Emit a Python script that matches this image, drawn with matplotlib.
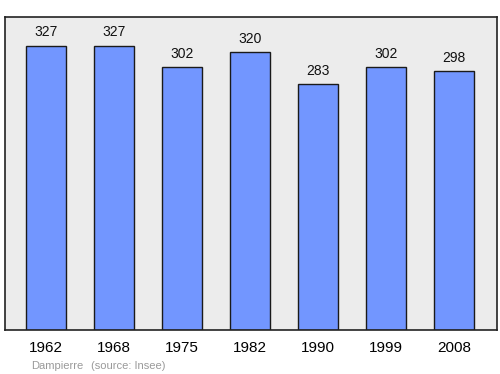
import matplotlib
matplotlib.use("Agg")
import matplotlib.pyplot as plt

plt.rcParams['font.family'] = ['Liberation Sans', 'DejaVu Sans']

years = ['1962', '1968', '1975', '1982', '1990', '1999', '2008']
population = [327, 327, 302, 320, 283, 302, 298]

fig = plt.figure(figsize=(5, 3.74), dpi=100)
ax = fig.add_axes([0.01, 0.1176, 0.984, 0.837])
ax.set_facecolor('#ececec')

x = range(len(years))
ax.bar(x, population, width=0.58, color='#7296ff', edgecolor='#1a1a1a', linewidth=1.0, zorder=2)

for xi, v in zip(x, population):
    ax.annotate(str(v), (xi, v), xytext=(0, 4.5), textcoords='offset points',
                ha='center', va='bottom', fontsize=10, color='#111111')

ax.set_xlim(-0.6, 6.63)
ax.set_ylim(0, 360)
ax.set_yticks([])
ax.set_xticks(list(x))
ax.set_xticklabels(years, fontsize=11)
ax.tick_params(axis='x', length=0, pad=8)
for s in ax.spines.values():
    s.set_color('#222222')
    s.set_linewidth(1.2)

fig.text(0.062, 0.022, 'Dampierre', fontsize=8, color='#9a9a9a', ha='left', va='center')
fig.text(0.182, 0.022, '(source: Insee)', fontsize=8, color='#9a9a9a', ha='left', va='center')

fig.savefig('out.png', dpi=100)
